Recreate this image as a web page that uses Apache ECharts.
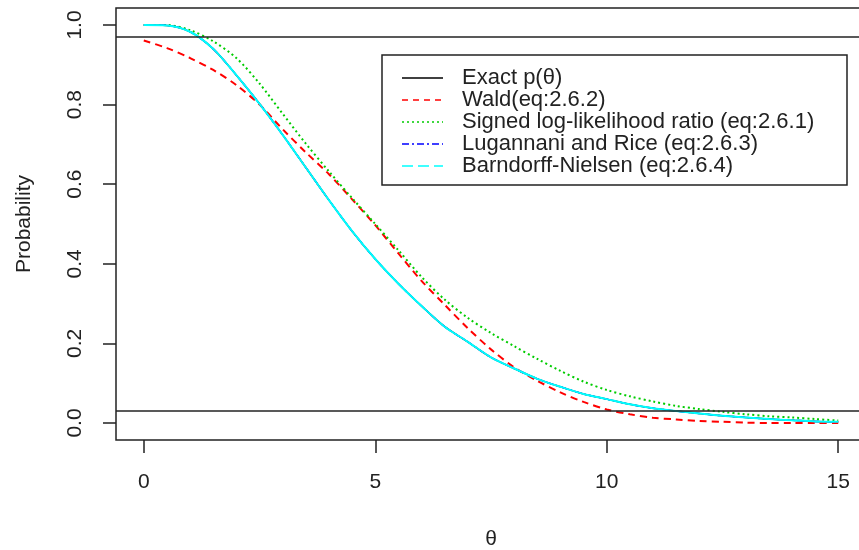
<!DOCTYPE html>
<html>
<head>
<meta charset="utf-8">
<script src="https://cdn.jsdelivr.net/npm/echarts@6/dist/echarts.min.js"></script>
<style>
  html, body { margin: 0; padding: 0; background: #fff; }
</style>
</head>
<body>
<div id="main" style="width: 859px;height:550px;"></div>
<script>
// values
const theta = [0, 0.5, 1, 1.5, 2, 2.5, 3, 3.5, 4, 4.5, 5, 5.5, 6, 6.5, 7, 7.5, 8, 8.5, 9, 9.5, 10, 10.5, 11, 11.5, 12, 12.5, 13, 13.5, 14, 14.5, 15];
const exactP = [1.000, 0.999, 0.983, 0.940, 0.874, 0.802, 0.724, 0.642, 0.560, 0.482, 0.412, 0.350, 0.294, 0.242, 0.204, 0.165, 0.137, 0.111, 0.091, 0.073, 0.060, 0.047, 0.037, 0.030, 0.024, 0.018, 0.014, 0.010, 0.007, 0.004, 0.003];
const wald = [0.961, 0.942, 0.917, 0.887, 0.849, 0.800, 0.738, 0.680, 0.625, 0.562, 0.497, 0.426, 0.357, 0.297, 0.238, 0.185, 0.140, 0.106, 0.077, 0.053, 0.034, 0.022, 0.013, 0.009, 0.005, 0.003, 0.001, 0.000, 0.000, 0.000, 0.000];
const signedLR = [1.000, 1.000, 0.987, 0.959, 0.917, 0.853, 0.777, 0.702, 0.632, 0.565, 0.500, 0.434, 0.367, 0.310, 0.264, 0.226, 0.193, 0.161, 0.131, 0.104, 0.083, 0.067, 0.054, 0.043, 0.035, 0.028, 0.022, 0.017, 0.014, 0.010, 0.006];
const lugannani = [1.000, 0.999, 0.983, 0.940, 0.874, 0.802, 0.724, 0.642, 0.560, 0.482, 0.412, 0.350, 0.294, 0.242, 0.204, 0.165, 0.137, 0.111, 0.091, 0.073, 0.060, 0.047, 0.037, 0.030, 0.024, 0.018, 0.014, 0.010, 0.007, 0.004, 0.003];
const barndorff = [1.000, 0.999, 0.983, 0.940, 0.874, 0.802, 0.724, 0.642, 0.560, 0.482, 0.412, 0.350, 0.294, 0.242, 0.204, 0.165, 0.137, 0.111, 0.091, 0.073, 0.060, 0.047, 0.037, 0.030, 0.024, 0.018, 0.014, 0.010, 0.007, 0.004, 0.003];
const refLines = [0.025, 0.975];
const xTicks = [0, 5, 10, 15];
const yTicks = [0, 0.2, 0.4, 0.6, 0.8, 1.0];
const names = ['Exact p(θ)', 'Wald(eq:2.6.2)', 'Signed log-likelihood ratio (eq:2.6.1)', 'Lugannani and Rice (eq:2.6.3)', 'Barndorff-Nielsen (eq:2.6.4)'];

const FONT = "'Liberation Sans', Arial, sans-serif";
const TXT = '#222';

function pairs (ys) {
  return theta.map((t, i) => [t, ys[i]]);
}

// legend rows (drawn by hand, R style box)
const legendRows = [
  { color: '#000000', dash: 'solid' },
  { color: '#ff0000', dash: [6, 5] },
  { color: '#00cc00', dash: [2, 3] },
  { color: '#0000ff', dash: [7, 3, 2, 3] },
  { color: '#00ffff', dash: [11, 5] }
];
const legendGraphics = [{
  type: 'rect',
  shape: { x: 382, y: 55, width: 465, height: 130 },
  style: { fill: '#fff', stroke: '#222', lineWidth: 1.5 },
  z: 100
}];
legendRows.forEach((r, i) => {
  const y = 78 + i * 22;
  legendGraphics.push({
    type: 'line',
    shape: { x1: 402, y1: y, x2: 443, y2: y },
    style: { stroke: r.color, lineWidth: 1.5, lineDash: r.dash },
    z: 101
  });
  legendGraphics.push({
    type: 'text',
    x: 462, y: y,
    style: { text: names[i], font: '22px ' + FONT, fill: TXT, verticalAlign: 'middle', textAlign: 'left' },
    z: 101
  });
});

let myChart = echarts.init(document.getElementById('main'));
let option = {
  backgroundColor: '#fff',
  animation: false,
  grid: {
    left: 116,
    top: 8,
    width: 750,
    height: 432,
    outerBoundsMode: 'none',
    show: true,
    borderColor: '#222',
    borderWidth: 1.5,
    backgroundColor: 'transparent'
  },
  xAxis: {
    type: 'value',
    min: -0.6,
    max: 15.6,
    name: 'θ',
    nameLocation: 'middle',
    nameGap: 89,
    nameTextStyle: { fontFamily: FONT, fontSize: 21, color: TXT },
    axisLine: { show: false, onZero: false },
    splitLine: { show: false },
    axisTick: {
      customValues: xTicks,
      length: 13,
      lineStyle: { color: '#222', width: 1.5 }
    },
    axisLabel: {
      customValues: xTicks,
      margin: 32,
      fontFamily: FONT,
      fontSize: 21,
      color: TXT
    }
  },
  yAxis: {
    type: 'value',
    min: -0.0427,
    max: 1.0427,
    name: 'Probability',
    nameLocation: 'middle',
    nameGap: 81,
    nameTextStyle: { fontFamily: FONT, fontSize: 21, color: TXT },
    axisLine: { show: false, onZero: false },
    splitLine: { show: false },
    axisTick: {
      customValues: yTicks,
      length: 13,
      lineStyle: { color: '#222', width: 1.5 }
    },
    axisLabel: {
      customValues: yTicks,
      rotate: 90,
      margin: 30,
      fontFamily: FONT,
      fontSize: 21,
      color: TXT,
      formatter: v => v.toFixed(1)
    }
  },
  graphic: legendGraphics,
  series: [{
    name: names[0],
    type: 'line',
    data: pairs(exactP),
    symbol: 'none',
    smooth: 0.3,
    lineStyle: { color: '#000', width: 1.5 },
    markLine: {
      silent: true,
      symbol: 'none',
      label: { show: false },
      lineStyle: { color: '#222', width: 1.5, type: 'solid' },
      data: refLines.map(v => ({ yAxis: v }))
    }
  }, {
    name: names[1],
    type: 'line',
    data: pairs(wald),
    symbol: 'none',
    smooth: 0.3,
    lineStyle: { color: '#ff0000', width: 2, type: [7, 5] }
  }, {
    name: names[2],
    type: 'line',
    data: pairs(signedLR),
    symbol: 'none',
    smooth: 0.3,
    lineStyle: { color: '#00cc00', width: 2, type: [2, 3] }
  }, {
    name: names[3],
    type: 'line',
    data: pairs(lugannani),
    symbol: 'none',
    smooth: 0.3,
    lineStyle: { color: '#0000ff', width: 1.5, type: [7, 3, 2, 3] }
  }, {
    name: names[4],
    type: 'line',
    data: pairs(barndorff),
    symbol: 'none',
    smooth: 0.3,
    lineStyle: { color: '#00ffff', width: 2 }
  }]
};
myChart.setOption(option);
</script>
</body>
</html>
